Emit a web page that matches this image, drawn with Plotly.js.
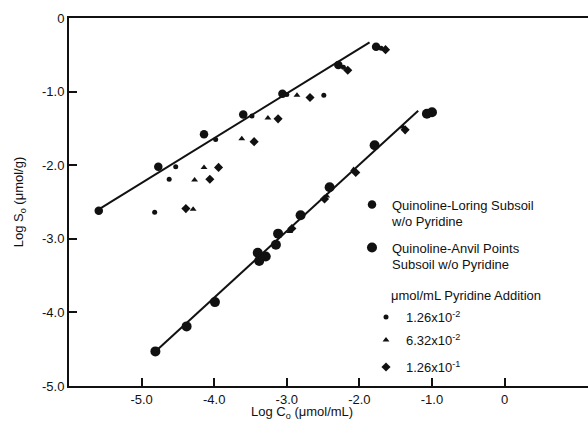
<!DOCTYPE html>
<html><head><meta charset="utf-8">
<script src="https://cdn.plot.ly/plotly-3.0.1.min.js"></script>
<style>html,body{margin:0;padding:0;background:#fff}</style>
</head><body><div id="chart" style="width:588px;height:428px"></div>
<script>
// Upper set (Loring subsoil)
const loringX = [-5.59, -4.77, -4.14, -3.60, -3.06, -2.29, -1.77];
const loringY = [-2.62, -2.02, -1.58, -1.31, -1.03, -0.64, -0.39];
// Lower set (Anvil Points subsoil)
const anvilX = [-4.81, -4.38, -3.99, -3.40, -3.38, -3.29, -3.15, -3.12, -2.81, -2.41, -1.79, -1.07, -1.00];
const anvilY = [-4.53, -4.19, -3.86, -3.19, -3.30, -3.24, -3.08, -2.93, -2.68, -2.30, -1.73, -1.30, -1.28];
// Pyridine additions (both soils)
const pyr1X = [-4.82, -4.62, -4.53, -3.98, -3.48, -3.00, -2.49, -2.22, -1.70, -3.34, -1.04];
const pyr1Y = [-2.64, -2.19, -2.02, -1.65, -1.33, -1.04, -1.05, -0.67, -0.41, -3.25, -1.27];
const pyr2X = [-4.29, -4.27, -4.14, -3.62, -3.26, -2.86, -2.96, -2.45, -2.08, -1.40];
const pyr2Y = [-2.60, -2.20, -2.03, -1.64, -1.36, -1.05, -2.90, -2.42, -2.06, -1.48];
const pyr3X = [-4.39, -4.06, -3.94, -3.45, -3.12, -2.68, -2.16, -1.64, -2.93, -2.48, -2.05, -1.37];
const pyr3Y = [-2.59, -2.19, -2.03, -1.68, -1.37, -1.08, -0.71, -0.43, -2.86, -2.46, -2.10, -1.52];
// Fitted lines (end points)
const fitUpperX = [-5.59, -1.86];
const fitUpperY = [-2.60, -0.33];
const fitLowerX = [-4.81, -1.19];
const fitLowerY = [-4.53, -1.26];
// Ticks
const xTickVals = [-5, -4, -3, -2, -1, 0];
const xTickText = ["-5.0", "-4.0", "-3.0", "-2.0", "-1.0", "0"];
const yTickVals = [0, -1, -2, -3, -4, -5];
const yTickText = ["0", "-1.0", "-2.0", "-3.0", "-4.0", "-5.0"];
const names = ["Quinoline-Loring Subsoil<br>w/o Pyridine", "Quinoline-Anvil Points<br>Subsoil w/o Pyridine",
  "1.26x10<sup>-2</sup>", "6.32x10<sup>-2</sup>", "1.26x10<sup>-1</sup>"];
const legendHeader = "μmol/mL Pyridine Addition";

const FONT = "Liberation Sans, Arial, Helvetica, sans-serif";
const blk = "#111";
const traces = [
  {x: fitUpperX, y: fitUpperY, mode: "lines", line: {color: blk, width: 2}, showlegend: false, hoverinfo: "skip"},
  {x: fitLowerX, y: fitLowerY, mode: "lines", line: {color: blk, width: 2}, showlegend: false, hoverinfo: "skip"},
  {x: loringX, y: loringY, mode: "markers", name: names[0], marker: {symbol: "circle", size: 8.5, color: blk}, legend: "legend"},
  {x: anvilX, y: anvilY, mode: "markers", name: names[1], marker: {symbol: "circle", size: 10, color: blk}, legend: "legend2"},
  {x: pyr1X, y: pyr1Y, mode: "markers", name: names[2], marker: {symbol: "circle", size: 5, color: blk}, legend: "legend3"},
  {x: pyr2X, y: pyr2Y, mode: "markers", name: names[3], marker: {symbol: "triangle-up", size: 6, color: blk}, legend: "legend4"},
  {x: pyr3X, y: pyr3Y, mode: "markers", name: names[4], marker: {symbol: "diamond", size: 7, color: blk}, legend: "legend5"}
];
function leg(px, py, extra) {
  return Object.assign({xref: "container", yref: "container", x: px / 588, y: 1 - py / 428,
    xanchor: "left", yanchor: "middle", bgcolor: "rgba(0,0,0,0)", borderwidth: 0, valign: "top",
    font: {family: FONT, size: 13, color: blk}, tracegroupgap: 0}, extra || {});
}
const layout = {
  width: 588, height: 428,
  margin: {l: 69, r: 0, t: 18, b: 42, autoexpand: false},
  paper_bgcolor: "#fff", plot_bgcolor: "#fff",
  font: {family: FONT, size: 13, color: blk},
  xaxis: {range: [-6, 1.149], tickvals: xTickVals, ticktext: xTickText, ticks: "inside", ticklen: 8,
    tickwidth: 2, tickcolor: blk, showline: true, linewidth: 2, linecolor: blk, mirror: true,
    showgrid: false, zeroline: false, tickfont: {family: FONT, size: 13, color: blk}},
  yaxis: {range: [-5, 0], tickvals: yTickVals, ticktext: yTickText, ticks: "inside", ticklen: 8,
    tickwidth: 2, tickcolor: blk, showline: true, linewidth: 2, linecolor: blk,
    showgrid: false, zeroline: false, tickfont: {family: FONT, size: 13, color: blk},
    title: {text: "Log S<sub>o</sub> (μmol/g)", font: {family: FONT, size: 13, color: blk}, standoff: 15}},
  showlegend: true,
  legend: leg(352, 213),
  legend2: leg(352, 256),
  legend3: leg(366, 317),
  legend4: leg(366, 340),
  legend5: leg(366, 367),
  annotations: [
    {text: legendHeader, xref: "paper", yref: "paper", x: (389 - 69) / 519, y: (386 - 295) / 368,
      xanchor: "left", yanchor: "middle", showarrow: false, font: {family: FONT, size: 13, color: blk}},
    {text: "Log C<sub>o</sub> (μmol/mL)", xref: "paper", yref: "paper", x: (302 - 69) / 519, y: (386 - 412) / 368,
      xanchor: "center", yanchor: "middle", showarrow: false, font: {family: FONT, size: 13, color: blk}}
  ]
};
Plotly.newPlot("chart", traces, layout, {displayModeBar: false, staticPlot: true});
</script></body></html>
